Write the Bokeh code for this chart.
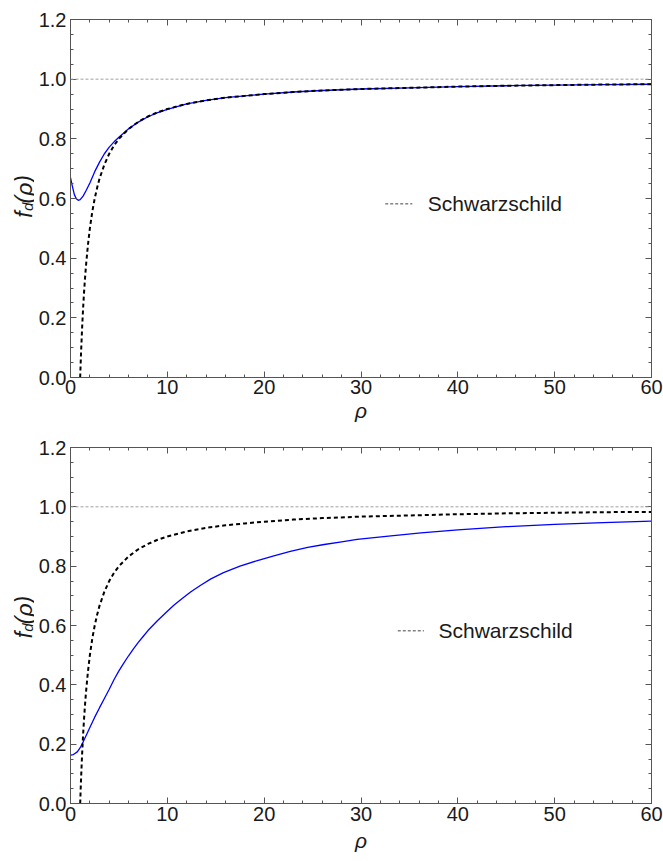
import math
from bokeh.plotting import figure
from bokeh.models import Range1d, LinearAxis, FixedTicker, Span, Label, NumeralTickFormatter
from bokeh.layouts import column, row
from bokeh.embed import file_html
from bokeh.resources import INLINE
from bokeh.core.properties import value

# ---------------- data ----------------
rho_schw = [1.0, 1.05, 1.1, 1.2, 1.3, 1.4, 1.5, 1.6, 1.8, 2.0, 2.25, 2.5, 2.75, 3.0, 3.5, 4.0,
            4.5, 5.0, 6.0, 7.0, 8.0, 9.0, 10.0, 12.0, 14.0, 16.0, 18.0, 20.0, 23.0, 26.0, 30.0,
            35.0, 40.0, 45.0, 50.0, 55.0, 60.0]
f_schw = [0.0, 0.048, 0.091, 0.167, 0.231, 0.286, 0.333, 0.375, 0.444, 0.5, 0.556, 0.6, 0.636,
          0.667, 0.714, 0.75, 0.778, 0.8, 0.833, 0.857, 0.875, 0.889, 0.9, 0.917, 0.929, 0.938,
          0.944, 0.95, 0.957, 0.962, 0.967, 0.971, 0.975, 0.978, 0.98, 0.982, 0.983]

rho_top = [0.0, 0.2, 0.4, 0.6, 0.8, 1.0, 1.3, 1.6, 2.0, 2.5, 3.0, 3.5, 4.0, 4.5, 5.0, 6.0, 7.0,
           8.0, 9.0, 10.0, 12.0, 14.0, 16.0, 18.0, 20.0, 23.0, 26.0, 30.0, 35.0, 40.0, 45.0,
           50.0, 55.0, 60.0]
f_top = [0.670, 0.640, 0.613, 0.599, 0.594, 0.596, 0.608, 0.626, 0.652, 0.690, 0.722, 0.750,
         0.772, 0.790, 0.805, 0.834, 0.856, 0.874, 0.888, 0.899, 0.917, 0.929, 0.938, 0.944,
         0.95, 0.957, 0.962, 0.967, 0.971, 0.975, 0.978, 0.98, 0.982, 0.983]

rho_bot = [0.0, 0.3, 0.7, 1.0, 1.3, 1.7, 2.0, 2.5, 3.0, 3.5, 4.0, 4.5, 5.0, 5.5, 6.0, 6.5, 7.0,
           7.5, 8.0, 9.0, 10.0, 10.7, 11.5, 12.4, 13.4, 14.5, 15.8, 17.5, 19.3, 21.0, 22.7,
           24.5, 26.2, 28.0, 29.6, 33.1, 36.2, 40.0, 45.0, 50.0, 55.0, 60.0]
f_bot = [0.163, 0.165, 0.174, 0.188, 0.207, 0.235, 0.256, 0.291, 0.323, 0.354, 0.385, 0.418,
         0.447, 0.473, 0.498, 0.521, 0.543, 0.563, 0.583, 0.617, 0.648, 0.669, 0.690, 0.713,
         0.735, 0.757, 0.778, 0.800, 0.819, 0.835, 0.850, 0.863, 0.873, 0.882, 0.890, 0.902,
         0.912, 0.922, 0.933, 0.941, 0.947, 0.952]

x_ticks = [0, 10, 20, 30, 40, 50, 60]
x_minor = [0, 2, 4, 6, 8, 10, 12, 14, 16, 18, 20, 22, 24, 26, 28, 30, 32, 34, 36, 38, 40,
           42, 44, 46, 48, 50, 52, 54, 56, 58, 60]
y_ticks = [0.0, 0.2, 0.4, 0.6, 0.8, 1.0, 1.2]
y_minor = [0.0, 0.05, 0.1, 0.15, 0.2, 0.25, 0.3, 0.35, 0.4, 0.45, 0.5, 0.55, 0.6, 0.65, 0.7,
           0.75, 0.8, 0.85, 0.9, 0.95, 1.0, 1.05, 1.1, 1.15, 1.2]
legend_label = "Schwarzschild"
x_label = "ρ"
y_label_parts = ["f", "d", "(ρ)"]

FONT = "Liberation Sans"
FRAME = "#555555"
TXT = "#1a1a1a"
LAB_W = 34


def style_axis(ax, show_labels):
    ax.axis_line_color = FRAME
    ax.axis_line_width = 1
    ax.major_tick_line_color = FRAME
    ax.minor_tick_line_color = FRAME
    ax.major_tick_in = 6
    ax.major_tick_out = 0
    ax.minor_tick_in = 3
    ax.minor_tick_out = 0
    ax.major_label_text_font = FONT
    if show_labels:
        ax.major_label_text_font_size = "20px"
        ax.major_label_text_color = TXT
    else:
        ax.major_label_text_font_size = "0px"
        ax.major_label_text_color = None
        ax.axis_label = None


def ylabel_fig(height, start):
    # narrow strip holding the rotated y-axis title f_d(rho); coordinates are pixels
    q = figure(width=LAB_W, height=height, output_backend="svg", toolbar_location=None,
               x_range=Range1d(0, LAB_W), y_range=Range1d(0, height),
               min_border_left=0, min_border_right=0, min_border_top=0,
               min_border_bottom=0, x_axis_type=None, y_axis_type=None)
    q.grid.visible = False
    q.outline_line_color = None
    bx = 23.5
    q.text(x=[bx], y=[start], text=[y_label_parts[0]], angle=math.pi / 2,
           text_font=value(FONT), text_font_size="23px", text_font_style="italic",
           text_color=TXT, text_baseline="alphabetic", text_align="left")
    q.text(x=[bx + 3.5], y=[start + 8], text=[y_label_parts[1]], angle=math.pi / 2,
           text_font=value(FONT), text_font_size="15px", text_font_style="italic",
           text_color=TXT, text_baseline="alphabetic", text_align="left")
    q.text(x=[bx], y=[start + 17], text=[y_label_parts[2]], angle=math.pi / 2,
           text_font=value(FONT), text_font_size="23px", text_font_style="italic",
           text_color=TXT, text_baseline="alphabetic", text_align="left")
    return q


def panel(rho_b, f_b, height, btop, bbot, leg_x0, leg_x1, leg_tx, leg_y, tick_sd, lab_sd):
    p = figure(width=663 - LAB_W, height=height, output_backend="svg", toolbar_location=None,
               x_range=Range1d(0, 60), y_range=Range1d(0, 1.2),
               min_border_left=70 - LAB_W, min_border_right=12, min_border_top=btop,
               min_border_bottom=bbot, x_axis_type=None, y_axis_type=None)
    p.grid.visible = False
    p.outline_line_color = None

    xb = LinearAxis(ticker=FixedTicker(ticks=x_ticks, minor_ticks=x_minor), axis_label=x_label)
    style_axis(xb, True)
    xb.major_label_standoff = tick_sd
    xb.axis_label_text_font = FONT
    xb.axis_label_text_font_size = "21px"
    xb.axis_label_text_font_style = "italic"
    xb.axis_label_text_color = TXT
    xb.axis_label_standoff = lab_sd
    p.add_layout(xb, "below")

    yl = LinearAxis(ticker=FixedTicker(ticks=y_ticks, minor_ticks=y_minor),
                    formatter=NumeralTickFormatter(format="0.0"))
    style_axis(yl, True)
    yl.major_label_standoff = 4
    p.add_layout(yl, "left")

    xa = LinearAxis(ticker=FixedTicker(ticks=x_ticks, minor_ticks=x_minor))
    style_axis(xa, False)
    p.add_layout(xa, "above")
    yr = LinearAxis(ticker=FixedTicker(ticks=y_ticks, minor_ticks=y_minor))
    style_axis(yr, False)
    p.add_layout(yr, "right")

    p.add_layout(Span(location=1.0, dimension="width", line_color="#a0a0a0",
                      line_width=1, line_dash="3 2"))

    p.line(rho_b, f_b, line_color="#0000ff", line_width=1.3)
    p.line(rho_schw, f_schw, line_color="black", line_width=2, line_dash="4 3")

    # legend
    p.line([leg_x0, leg_x1], [leg_y, leg_y], line_color="#444444", line_width=1,
           line_dash="3 2")
    p.add_layout(Label(x=leg_tx, y=leg_y, text=legend_label, text_font=FONT,
                       text_font_size="21px", text_color=TXT,
                       text_baseline="middle", text_align="left"))
    return p


p1 = panel(rho_top, f_top, 430, 19, 53, 32.5, 35.3, 36.9, 0.582, 2, 2)
p2 = panel(rho_bot, f_bot, 431, 17, 58, 33.8, 36.5, 38.0, 0.582, 3, 5)

l1 = ylabel_fig(430, 430 - 238)
l2 = ylabel_fig(431, 431 - 231)

layout = column(row(l1, p1, spacing=0), row(l2, p2, spacing=0), spacing=0)
open("out.html", "w").write(file_html(layout, INLINE))
